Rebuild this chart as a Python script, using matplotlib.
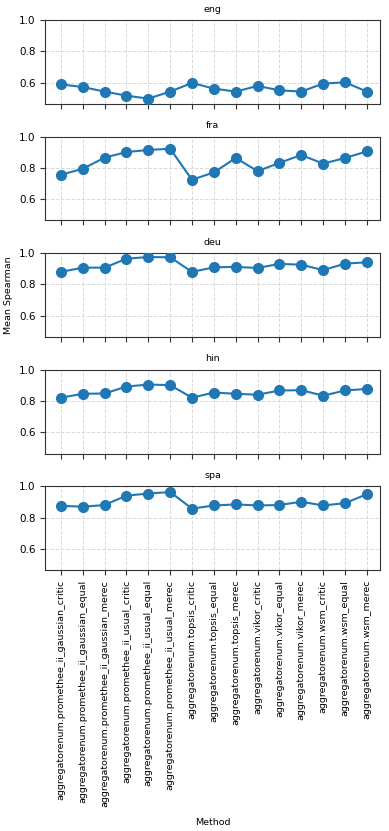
import matplotlib
matplotlib.use("Agg")
import matplotlib.pyplot as plt
import numpy as np

methods = [
    "aggregatorenum.promethee_ii_gaussian_critic",
    "aggregatorenum.promethee_ii_gaussian_equal",
    "aggregatorenum.promethee_ii_gaussian_merec",
    "aggregatorenum.promethee_ii_usual_critic",
    "aggregatorenum.promethee_ii_usual_equal",
    "aggregatorenum.promethee_ii_usual_merec",
    "aggregatorenum.topsis_critic",
    "aggregatorenum.topsis_equal",
    "aggregatorenum.topsis_merec",
    "aggregatorenum.vikor_critic",
    "aggregatorenum.vikor_equal",
    "aggregatorenum.vikor_merec",
    "aggregatorenum.wsm_critic",
    "aggregatorenum.wsm_equal",
    "aggregatorenum.wsm_merec",
]
languages = ["eng", "fra", "deu", "hin", "spa"]

eng = [0.589, 0.572, 0.543, 0.517, 0.498, 0.543, 0.598, 0.562, 0.543, 0.579, 0.551, 0.543, 0.594, 0.602, 0.543]
fra = [0.756, 0.794, 0.865, 0.901, 0.914, 0.922, 0.724, 0.771, 0.863, 0.779, 0.832, 0.882, 0.827, 0.863, 0.905]
deu = [0.880, 0.907, 0.907, 0.964, 0.975, 0.973, 0.880, 0.909, 0.912, 0.905, 0.931, 0.926, 0.891, 0.933, 0.941]
hin = [0.821, 0.846, 0.848, 0.892, 0.905, 0.901, 0.821, 0.854, 0.846, 0.840, 0.867, 0.869, 0.834, 0.867, 0.877]
spa = [0.875, 0.869, 0.880, 0.940, 0.953, 0.963, 0.857, 0.877, 0.884, 0.877, 0.880, 0.901, 0.877, 0.892, 0.949]

eng_err = [0.005, 0.005, 0.004, 0.006, 0.004, 0.004, 0.006, 0.005, 0.004, 0.015, 0.005, 0.004, 0.005, 0.005, 0.004]
fra_err = [0.004, 0.004, 0.004, 0.004, 0.004, 0.004, 0.004, 0.004, 0.004, 0.004, 0.004, 0.004, 0.004, 0.004, 0.004]
deu_err = [0.004, 0.006, 0.006, 0.006, 0.005, 0.004, 0.004, 0.006, 0.010, 0.004, 0.006, 0.010, 0.004, 0.005, 0.012]
hin_err = [0.004, 0.005, 0.004, 0.005, 0.004, 0.004, 0.004, 0.006, 0.005, 0.004, 0.005, 0.005, 0.004, 0.005, 0.006]
spa_err = [0.004, 0.004, 0.004, 0.004, 0.004, 0.004, 0.004, 0.004, 0.004, 0.004, 0.004, 0.005, 0.004, 0.004, 0.004]

series = {"eng": (eng, eng_err), "fra": (fra, fra_err), "deu": (deu, deu_err),
          "hin": (hin, hin_err), "spa": (spa, spa_err)}

plt.rcParams['font.family'] = ['DejaVu Sans']
color = "#1f77b4"

fig, axes = plt.subplots(5, 1, figsize=(3.89, 8.31), dpi=100, sharex=True, sharey=True)
fig.subplots_adjust(left=0.116, right=0.978, top=0.976, bottom=0.314, hspace=0.39)

x = np.arange(len(methods))
for ax, lang in zip(axes, languages):
    vals, errs = series[lang]
    ax.errorbar(x, vals, yerr=errs, color=color, marker='o', markersize=7,
                linewidth=1.5, elinewidth=2.5, capsize=0, zorder=3)
    ax.set_title(lang, fontsize=6.8, pad=6)
    ax.grid(True, linestyle='--', color='#d9d9d9', linewidth=0.7)
    ax.set_axisbelow(True)
    ax.tick_params(axis='both', labelsize=7.5, length=3.5, width=0.8, color='#333333', direction='out')
    for s in ax.spines.values():
        s.set_linewidth(0.8)
        s.set_color('#333333')
    ax.set_ylim(0.465, 1.0)
    ax.set_yticks([0.6, 0.8, 1.0])
    ax.set_xlim(-0.72, len(methods) - 1 + 0.62)

axes[-1].set_xticks(x)
axes[-1].set_xticklabels(methods, rotation=90, fontsize=6.8)
axes[-1].set_xlabel("Method", fontsize=6.8, labelpad=8)
axes[2].set_ylabel("Mean Spearman", fontsize=6.8)

fig.savefig("out.png", dpi=100)
